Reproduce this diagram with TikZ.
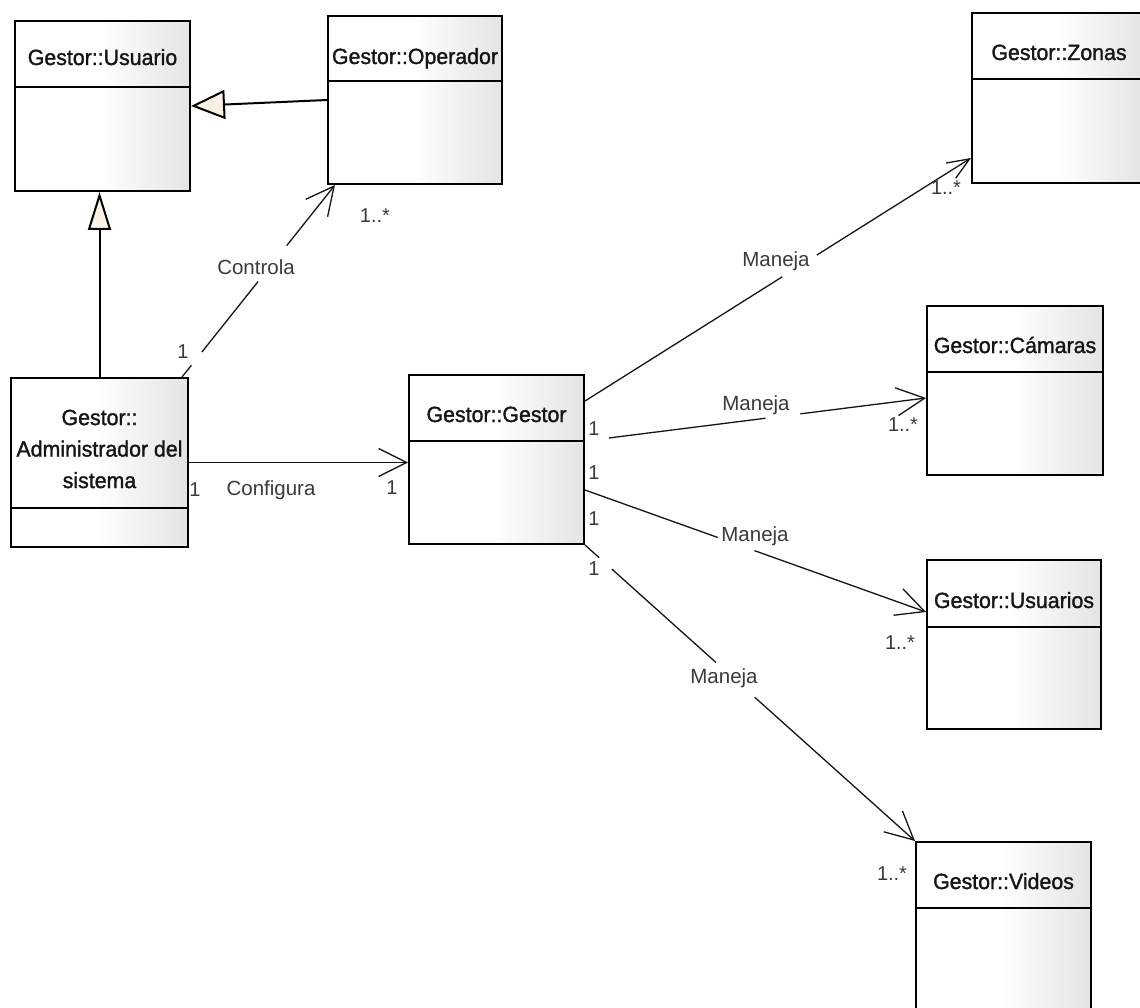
\documentclass[tikz,border=0pt]{standalone}
\usepackage{fontspec}
\setmainfont{Liberation Sans}
\newfontfamily\classfont[FakeStretch=0.97,FakeBold=1.4]{Liberation Sans}
\newfontfamily\labelfont{Liberation Sans}
\usetikzlibrary{arrows.meta,calc}

\definecolor{boxgray}{HTML}{E4E4E4}
\definecolor{genfill}{HTML}{FBF1E3}
\definecolor{labelgray}{HTML}{3A3A3A}
\definecolor{ink}{HTML}{151515}

% white on the left half of a class box, fading to light grey at its right edge
\pgfdeclarehorizontalshading{classshade}{100bp}{color(0bp)=(white); color(49bp)=(white); color(75bp)=(boxgray); color(100bp)=(boxgray)}

% class box: name, x, y, width, height, height of the name compartment
\newcommand{\umlclass}[6]{%
  \node[classbox, minimum width=#4pt, minimum height=#5pt] (#1) at (#2,#3) {};
  \draw[line width=2pt] ([yshift=-#6pt]#1.north west) -- ([yshift=-#6pt]#1.north east);
}

\begin{document}
\begin{tikzpicture}[x=1pt,y=-1pt,
  classbox/.style={draw=black, line width=2pt, shade, shading=classshade,
    anchor=north west, inner sep=0pt},
  classname/.style={font=\classfont\fontsize{22}{31.5}\selectfont, text=ink,
    inner sep=0pt, align=center},
  rel/.style={font=\labelfont\fontsize{20.5}{24}\selectfont, text=labelgray, inner sep=0pt},
  mult/.style={font=\labelfont\fontsize{20}{24}\selectfont, text=labelgray, inner sep=0pt},
  assoc/.style={draw=ink, line width=1.3pt, -{Straight Barb[length=28pt,width=28pt]}},
  gen/.style 2 args={draw=black, line width=2pt,
    -{Triangle[length=#1pt,width=#2pt,fill=genfill]}},
]
\useasboundingbox (0,0) rectangle (1140,1008);
\fill[white] (0,0) rectangle (1140,1008);

% classes
\umlclass{usuario}{14}{20}{175}{170}{67}
\umlclass{operador}{327}{15}{174}{168}{66}
\umlclass{admin}{10}{377}{177}{169}{131}
\umlclass{gestor}{408}{374}{175}{169}{67}
\umlclass{zonas}{971}{12}{174}{170}{67}
\umlclass{camaras}{926}{305}{176}{169}{67}
\umlclass{usuarios}{926}{559}{174}{169}{68}
\umlclass{videos}{915}{841}{175}{175}{67}

\node[classname, anchor=base] (usuario-name)  at ($(usuario.north)+(0,45)$)  {Gestor::Usuario};
\node[classname, anchor=base] (operador-name) at ($(operador.north)+(0,49)$) {Gestor::Operador};
\node[classname] (admin-name) at ($(admin.north)+(0,72)$) {Gestor::\\Administrador del\\sistema};
\node[classname, anchor=base] (gestor-name)   at ($(gestor.north)+(0,48)$)   {Gestor::Gestor};
\node[classname, anchor=base] (zonas-name)    at ($(zonas.north)+(0,48)$)    {Gestor::Zonas};
\node[classname, anchor=base] (camaras-name)  at ($(camaras.north)+(0,48)$)  {Gestor::Cámaras};
\node[classname, anchor=base] (usuarios-name) at ($(usuarios.north)+(0,49)$) {Gestor::Usuarios};
\node[classname, anchor=base] (videos-name)   at ($(videos.north)+(0,48)$)   {Gestor::Videos};

% generalisations
\draw[gen={34}{29}] (operador.west) -- (usuario.east);
\draw[gen={38}{23}] (admin.north) -- (admin.north |- usuario.south);

% associations (breaks in the lines where the labels sit)
\draw[assoc, dash pattern=on 15pt off 17pt on 90pt off 46pt on 300pt]
  ([xshift=-7pt]admin.north east) -- ([xshift=8pt]operador.south west);
\draw[assoc] (admin.east) -- (admin.east -| gestor.west);
\draw[assoc, -{Straight Barb[length=22pt,width=18pt]}, dash pattern=on 233pt off 41pt on 400pt]
  ([yshift=-27pt]gestor.north east) -- ([yshift=26pt]zonas.south west);
\draw[assoc, dash pattern=on 0pt off 24pt on 158pt off 35pt on 300pt]
  ([yshift=-67pt]gestor.north east) -- ([yshift=-93pt]camaras.north west);
\draw[assoc, dash pattern=on 141pt off 39pt on 300pt]
  ([yshift=-116pt]gestor.north east) -- ([yshift=-53pt]usuarios.north west);
\draw[assoc, dash pattern=on 19pt off 17pt on 140pt off 52pt on 400pt]
  (gestor.south east) -- (videos.north west);

% association names
\node[rel] (controla)        at (256,267) {Controla};
\node[rel] (configura)       at (271,490) {Configura};
\node[rel] (maneja-zonas)    at (776,261) {Maneja};
\node[rel] (maneja-camaras)  at (756,405) {Maneja};
\node[rel] (maneja-usuarios) at (755,536) {Maneja};
\node[rel] (maneja-videos)   at (724,678) {Maneja};

% multiplicities
\node[mult] (ctrl-one)   at (183,352) {1};
\node[mult] (ctrl-many)  at (375,216) {1..*};
\node[mult] (cfg-one)    at (195,490) {1};
\node[mult] (cfg-other)  at (392,488) {1};
\node[mult] (zon-one)    at (594,429) {1};
\node[mult] (cam-one)    at (594,473) {1};
\node[mult] (usr-one)    at (594,519) {1};
\node[mult] (vid-one)    at (594,569) {1};
\node[mult] (zon-many)   at (946,188) {1..*};
\node[mult] (cam-many)   at (903,425) {1..*};
\node[mult] (usr-many)   at (900,643) {1..*};
\node[mult] (vid-many)   at (892,874) {1..*};
\end{tikzpicture}
\end{document}
